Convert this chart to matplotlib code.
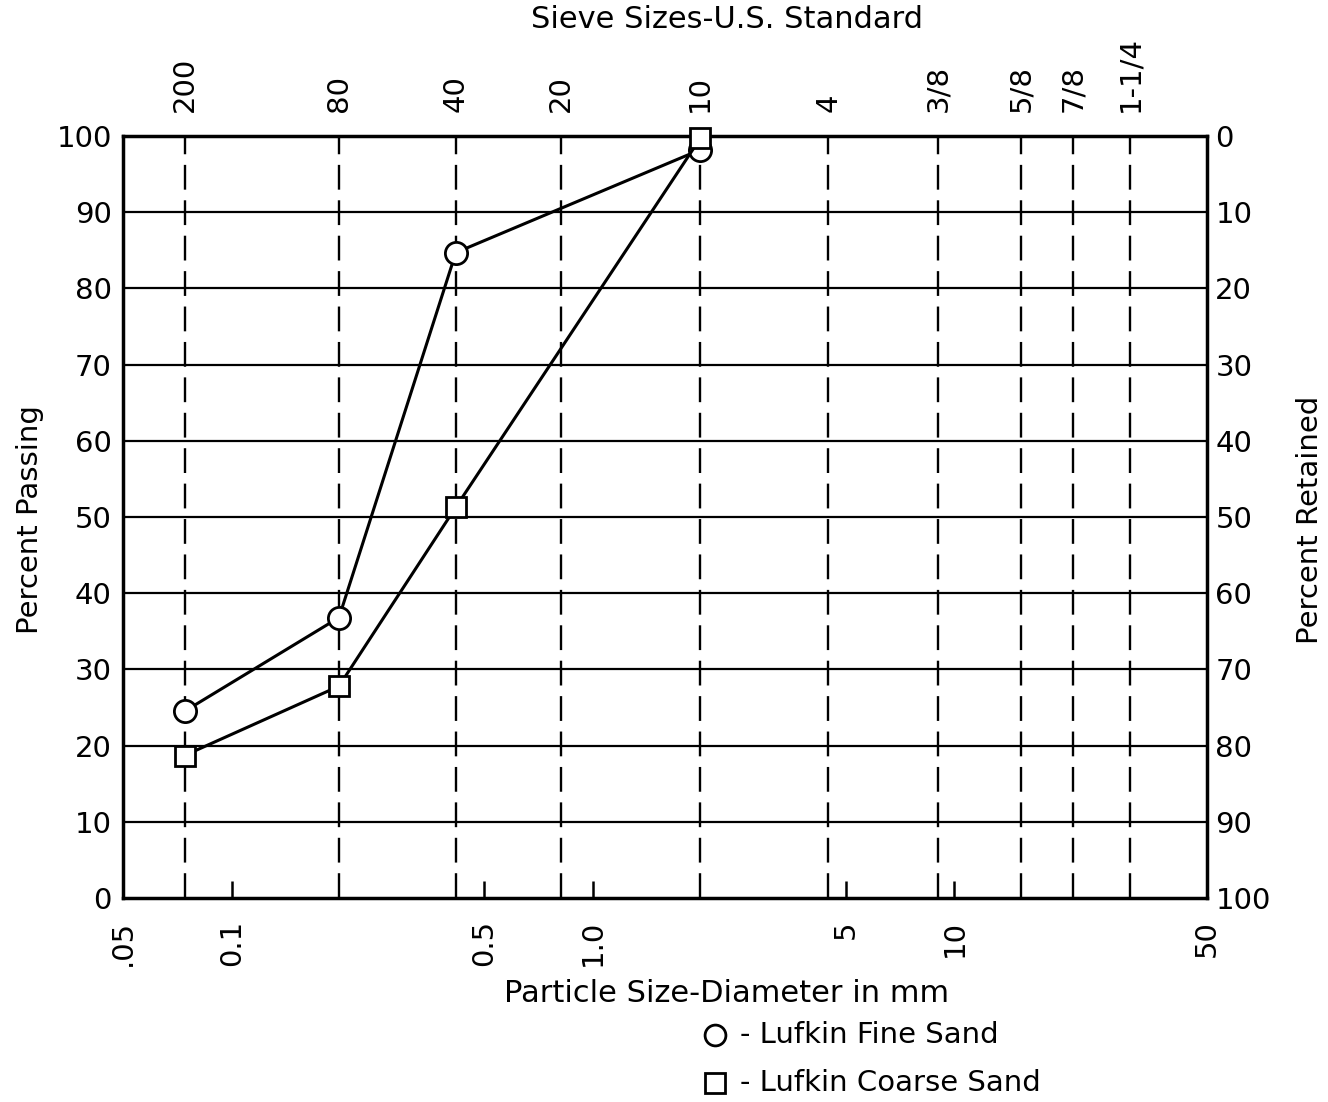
import matplotlib
matplotlib.use("Agg")
import matplotlib.pyplot as plt
from matplotlib.lines import Line2D
from matplotlib.ticker import NullLocator

plt.rcParams['font.family'] = ['DejaVu Sans']

# U.S. standard sieves and their openings (mm)
sieve_labels = ["200", "80", "40", "20", "10", "4", "3/8", "5/8", "7/8", "1-1/4"]
sieve_mm = [0.074, 0.198, 0.417, 0.813, 1.98, 4.48, 9.0, 15.3, 21.3, 30.6]

# Gradation results (percent passing)
fine_mm = [0.074, 0.198, 0.417, 1.98]
fine_passing = [24.5, 36.8, 84.7, 98.2]
coarse_mm = [0.074, 0.198, 0.417, 1.98]
coarse_passing = [18.7, 27.8, 51.3, 99.7]

# Axis ticks
size_ticks = [0.05, 0.1, 0.5, 1.0, 5, 10, 50]
size_tick_labels = [".05", "0.1", "0.5", "1.0", "5", "10", "50"]
passing_ticks = list(range(0, 101, 10))

W, H = 1328, 1102
fig = plt.figure(figsize=(W / 100, H / 100), dpi=100)


def fx(px):
    return px / W


def fy(py):
    return 1 - py / H


ax = fig.add_axes([fx(123), fy(898), fx(1207) - fx(123), fy(136) - fy(898)])
ax.set_xscale('log')
ax.set_xlim(0.05, 50)
ax.set_ylim(0, 100)

for s in ax.spines.values():
    s.set_linewidth(2.5)

# horizontal grid
for v in passing_ticks[1:-1]:
    ax.axhline(v, color='black', lw=1.6, zorder=1)

# sieve lines
for x in sieve_mm:
    ax.axvline(x, color='black', lw=1.7, ls=(0, (10.5, 4.5)), zorder=1)

# curves
ax.plot(fine_mm, fine_passing, color='black', lw=2.2, marker='o', ms=16,
        mfc='white', mec='black', mew=2.0, zorder=5, clip_on=False)
ax.plot(coarse_mm, coarse_passing, color='black', lw=2.2, marker='s', ms=15,
        mfc='white', mec='black', mew=2.0, zorder=6, clip_on=False)

# bottom axis: particle size
ax.xaxis.set_minor_locator(NullLocator())
ax.set_xticks(size_ticks)
ax.set_xticklabels(size_tick_labels, rotation=90)
ax.tick_params(axis='x', direction='in', length=12, width=1.8, pad=16,
               labelsize=21)

# left axis: percent passing
ax.set_yticks(passing_ticks)
ax.tick_params(axis='y', length=0, pad=8, labelsize=21)

# top axis: sieve numbers
top = ax.twiny()
top.set_xscale('log')
top.set_xlim(ax.get_xlim())
top.xaxis.set_minor_locator(NullLocator())
top.set_xticks(sieve_mm)
top.set_xticklabels(sieve_labels, rotation=90)
top.tick_params(axis='x', length=0, pad=17, labelsize=21)
for s in top.spines.values():
    s.set_visible(False)

# right axis: percent retained
right = ax.twinx()
right.set_ylim(100, 0)
right.set_yticks(passing_ticks)
right.tick_params(axis='y', length=0, pad=6, labelsize=21)
for s in right.spines.values():
    s.set_visible(False)

fig.text(fx(727), fy(20), "Sieve Sizes-U.S. Standard", ha='center',
         va='center', fontsize=22)
fig.text(fx(727), fy(993), "Particle Size-Diameter in mm", ha='center',
         va='center', fontsize=22)
fig.text(fx(30), fy(520), "Percent Passing", rotation=90, ha='center',
         va='center', fontsize=21)
fig.text(fx(1310), fy(520), "Percent Retained", rotation=90, ha='center',
         va='center', fontsize=21)

# key
for marker, label, ypx in [('o', "- Lufkin Fine Sand", 1035),
                           ('s', "- Lufkin Coarse Sand", 1083)]:
    fig.add_artist(Line2D([fx(715)], [fy(ypx)], marker=marker, ms=15,
                          mfc='white', mec='black', mew=2.0, ls='none',
                          transform=fig.transFigure))
    fig.text(fx(740), fy(ypx), label, ha='left', va='center', fontsize=21)

fig.savefig("out.png", dpi=100, facecolor='white')
